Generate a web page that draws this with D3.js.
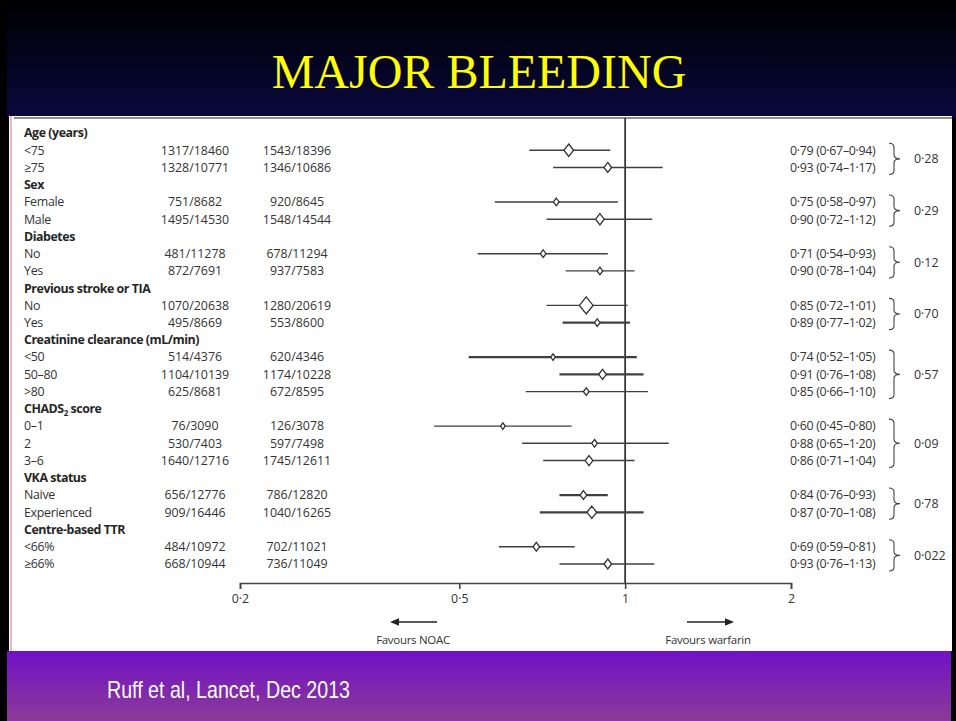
<!DOCTYPE html>
<html>
<head>
<meta charset="utf-8">
<script src="https://cdn.jsdelivr.net/npm/d3@7"></script>
<style>
  html, body { margin: 0; padding: 0; background: #000; }
  svg { display: block; }
</style>
</head>
<body>
<svg id="chart" width="956" height="721"></svg>
<script>
// Subgroup headings
const groups = ["Age (years)", "Sex", "Diabetes", "Previous stroke or TIA",
  "Creatinine clearance (mL/min)", "CHADS2 score", "VKA status", "Centre-based TTR"];

// Subgroup rows and the heading each one belongs to
const subgroups = ["<75", "\u226575", "Female", "Male", "No", "Yes", "No", "Yes",
  "<50", "50\u201380", ">80", "0\u20131", "2", "3\u20136", "Naive", "Experienced", "<66%", "\u226566%"];
const subgroupOf = [0, 0, 1, 1, 2, 2, 3, 3, 4, 4, 4, 5, 5, 5, 6, 6, 7, 7];

// Events / patients, NOAC arm
const noacEvents = [1317, 1328, 751, 1495, 481, 872, 1070, 495, 514, 1104, 625, 76, 530, 1640, 656, 909, 484, 668];
const noacTotal  = [18460, 10771, 8682, 14530, 11278, 7691, 20638, 8669, 4376, 10139, 8681, 3090, 7403, 12716, 12776, 16446, 10972, 10944];
// Events / patients, warfarin arm
const warfEvents = [1543, 1346, 920, 1548, 678, 937, 1280, 553, 620, 1174, 672, 126, 597, 1745, 786, 1040, 702, 736];
const warfTotal  = [18396, 10686, 8645, 14544, 11294, 7583, 20619, 8600, 4346, 10228, 8595, 3078, 7498, 12611, 12820, 16265, 11021, 11049];

// Relative risk with 95% CI
const rr   = [0.79, 0.93, 0.75, 0.90, 0.71, 0.90, 0.85, 0.89, 0.74, 0.91, 0.85, 0.60, 0.88, 0.86, 0.84, 0.87, 0.69, 0.93];
const ciLo = [0.67, 0.74, 0.58, 0.72, 0.54, 0.78, 0.72, 0.77, 0.52, 0.76, 0.66, 0.45, 0.65, 0.71, 0.76, 0.70, 0.59, 0.76];
const ciHi = [0.94, 1.17, 0.97, 1.12, 0.93, 1.04, 1.01, 1.02, 1.05, 1.08, 1.10, 0.80, 1.20, 1.04, 0.93, 1.08, 0.81, 1.13];

// p value for interaction, one per heading
const pInteraction = [0.28, 0.29, 0.12, 0.70, 0.57, 0.09, 0.78, 0.022];

// Axis ticks
const tickValues = [0.2, 0.5, 1, 2];

// Marker appearance per subgroup row (diamond width in px, CI stroke width)
const diamondWidth = [11, 9, 7, 10, 7, 7, 15, 7, 6, 9, 7, 6, 7, 9, 8, 11, 8, 9];
const ciStroke     = [1.4, 1.4, 1.4, 1.4, 1.4, 1.4, 1.4, 2.2, 2.2, 2.2, 1.4, 1.4, 1.4, 1.4, 2.2, 2.2, 1.4, 1.4];

const W = 956, H = 721;
const svg = d3.select("#chart");
const defs = svg.append("defs");

const gTop = defs.append("linearGradient").attr("id", "topGrad").attr("x1", 0).attr("y1", 0).attr("x2", 0).attr("y2", 1);
gTop.append("stop").attr("offset", "0%").attr("stop-color", "#000000");
gTop.append("stop").attr("offset", "100%").attr("stop-color", "#08083e");

const gBot = defs.append("linearGradient").attr("id", "botGrad").attr("x1", 0).attr("y1", 0).attr("x2", 0).attr("y2", 1);
gBot.append("stop").attr("offset", "0%").attr("stop-color", "#7011c6");
gBot.append("stop").attr("offset", "100%").attr("stop-color", "#8c3b97");

// Slide background
svg.append("rect").attr("width", W).attr("height", H).attr("fill", "#000");
svg.append("rect").attr("x", 7).attr("y", 0).attr("width", W - 7).attr("height", 118).attr("fill", "url(#topGrad)");
svg.append("rect").attr("x", 7).attr("y", 651).attr("width", 944).attr("height", 70).attr("fill", "url(#botGrad)");

// Title
svg.append("text")
  .attr("x", 479).attr("y", 88)
  .attr("text-anchor", "middle")
  .attr("font-family", "'Liberation Serif', 'Times New Roman', serif")
  .attr("font-size", 48)
  .attr("fill", "#ffff00")
  .text("MAJOR BLEEDING");

// White figure panel
svg.append("rect").attr("x", 9).attr("y", 116).attr("width", 943).attr("height", 535).attr("fill", "#fff");
svg.append("line").attr("x1", 11).attr("x2", 11).attr("y1", 116).attr("y2", 651)
  .attr("stroke", "#e8b7ca").attr("stroke-width", 2);
svg.append("line").attr("x1", 14).attr("x2", 952).attr("y1", 118).attr("y2", 118)
  .attr("stroke", "#8a8a8a").attr("stroke-width", 2.2);

// Footer reference
svg.append("text")
  .attr("x", 107).attr("y", 698)
  .attr("font-family", "'Liberation Sans Narrow', 'Arial Narrow', 'Liberation Sans', sans-serif")
  .attr("font-size", 24)
  .attr("fill", "#ffffff")
  .attr("textLength", 243).attr("lengthAdjust", "spacingAndGlyphs")
  .text("Ruff et al, Lancet, Dec 2013");

// Row layout: heading followed by its subgroups
const rows = [];
groups.forEach((g, gi) => {
  rows.push({ type: "head", label: g, group: gi });
  subgroupOf.forEach((s, i) => { if (s === gi) rows.push({ type: "sub", label: subgroups[i], idx: i, group: gi }); });
});
rows.forEach((r, k) => r.row = k);

const y = d3.scaleLinear().domain([0, rows.length - 1]).range([133, 564]);
const x = d3.scaleLog().domain([0.2, 2]).range([240, 791]);
const dec = (v, n) => v.toFixed(n).replace(".", "\u00b7");

const font = "'Open Sans', 'Noto Sans', sans-serif";
const txt = svg.append("g").attr("font-family", font).attr("font-size", 12.4).attr("fill", "#333");

// Left column labels
const lab = txt.selectAll("text.lab").data(rows).join("text")
  .attr("class", "lab")
  .attr("x", 24)
  .attr("y", d => y(d.row))
  .attr("dy", "0.35em")
  .attr("font-weight", d => d.type === "head" ? 700 : 400)
  .attr("letter-spacing", d => d.type === "head" ? "-0.45px" : "-0.3px")
  .attr("fill", d => d.type === "head" ? "#262626" : "#333");
lab.each(function (d) {
  const t = d3.select(this);
  if (d.label === "CHADS2 score") {
    t.append("tspan").text("CHADS");
    t.append("tspan").attr("font-size", 8).attr("dy", 3).text("2");
    t.append("tspan").attr("dy", -3).text(" score");
  } else {
    t.text(d.label);
  }
});

const subs = rows.filter(r => r.type === "sub");

// Event counts
txt.selectAll("text.noac").data(subs).join("text")
  .attr("x", 195).attr("y", d => y(d.row)).attr("dy", "0.35em")
  .attr("text-anchor", "middle")
  .text(d => `${noacEvents[d.idx]}/${noacTotal[d.idx]}`);
txt.selectAll("text.warf").data(subs).join("text")
  .attr("x", 297).attr("y", d => y(d.row)).attr("dy", "0.35em")
  .attr("text-anchor", "middle")
  .text(d => `${warfEvents[d.idx]}/${warfTotal[d.idx]}`);

// RR (95% CI) text
txt.selectAll("text.rr").data(subs).join("text")
  .attr("x", 790).attr("y", d => y(d.row)).attr("dy", "0.35em")
  .attr("letter-spacing", "-0.3px")
  .text(d => `${dec(rr[d.idx], 2)} (${dec(ciLo[d.idx], 2)}\u2013${dec(ciHi[d.idx], 2)})`);

// Braces and interaction p values
const braceG = svg.append("g");
groups.forEach((g, gi) => {
  const rs = subs.filter(r => r.group === gi);
  const y0 = y(rs[0].row) - 7, y1 = y(rs[rs.length - 1].row) + 7, m = (y0 + y1) / 2;
  const xa = 889, xs = 894, tip = 900, r = 4;
  braceG.append("path")
    .attr("d", `M${xa},${y0} Q${xs},${y0} ${xs},${y0 + r} L${xs},${m - r} Q${xs},${m} ${tip},${m} Q${xs},${m} ${xs},${m + r} L${xs},${y1 - r} Q${xs},${y1} ${xa},${y1}`)
    .attr("fill", "none").attr("stroke", "#444").attr("stroke-width", 1.1);
  txt.append("text")
    .attr("x", 914).attr("y", m).attr("dy", "0.35em")
    .text(dec(pInteraction[gi], pInteraction[gi] < 0.05 ? 3 : 2));
});

// Reference line at 1
svg.append("line")
  .attr("x1", x(1)).attr("x2", x(1)).attr("y1", 118).attr("y2", 583)
  .attr("stroke", "#222").attr("stroke-width", 1.6);

// Confidence intervals
const plot = svg.append("g");
plot.selectAll("line.ci").data(subs).join("line")
  .attr("x1", d => x(ciLo[d.idx])).attr("x2", d => x(ciHi[d.idx]))
  .attr("y1", d => y(d.row)).attr("y2", d => y(d.row))
  .attr("stroke", "#404040")
  .attr("stroke-width", d => ciStroke[d.idx]);

// Point estimates as diamonds
plot.selectAll("path.pt").data(subs).join("path")
  .attr("transform", d => `translate(${x(rr[d.idx])},${y(d.row)})`)
  .attr("d", d => {
    const hw = (diamondWidth[d.idx] - 1.3) / 2, hh = hw * 1.2 + 0.4;
    return `M0,${-hh}L${hw},0L0,${hh}L${-hw},0Z`;
  })
  .attr("fill", "#fff").attr("stroke", "#333").attr("stroke-width", 1.3);

// Axis
const axis = svg.append("g")
  .attr("transform", "translate(0,583)")
  .call(d3.axisBottom(x).tickValues(tickValues).tickSize(6).tickPadding(5)
    .tickFormat(d => String(d).replace(".", "\u00b7")));
axis.select(".domain").attr("stroke", "#444").attr("stroke-width", 1.6);
axis.selectAll(".tick line").attr("stroke", "#444").attr("stroke-width", 1.6);
axis.selectAll(".tick text").attr("font-family", font).attr("font-size", 12.4).attr("fill", "#333");

// Direction arrows
function arrow(xFrom, xTo, yy) {
  const dir = Math.sign(xTo - xFrom), hl = 9;
  svg.append("line").attr("x1", xFrom).attr("x2", xTo - dir * hl).attr("y1", yy).attr("y2", yy)
    .attr("stroke", "#222").attr("stroke-width", 1.6);
  svg.append("path")
    .attr("d", `M${xTo},${yy}L${xTo - dir * hl},${yy - 3.8}L${xTo - dir * hl},${yy + 3.8}Z`)
    .attr("fill", "#222");
}
arrow(437, 390, 622);
arrow(687, 734, 622);
txt.append("text").attr("x", 413).attr("y", 644).attr("text-anchor", "middle")
  .attr("font-size", 11.5).attr("letter-spacing", "-0.3px").text("Favours NOAC");
txt.append("text").attr("x", 708).attr("y", 644).attr("text-anchor", "middle")
  .attr("font-size", 11.5).attr("letter-spacing", "-0.3px").text("Favours warfarin");
</script>
</body>
</html>
